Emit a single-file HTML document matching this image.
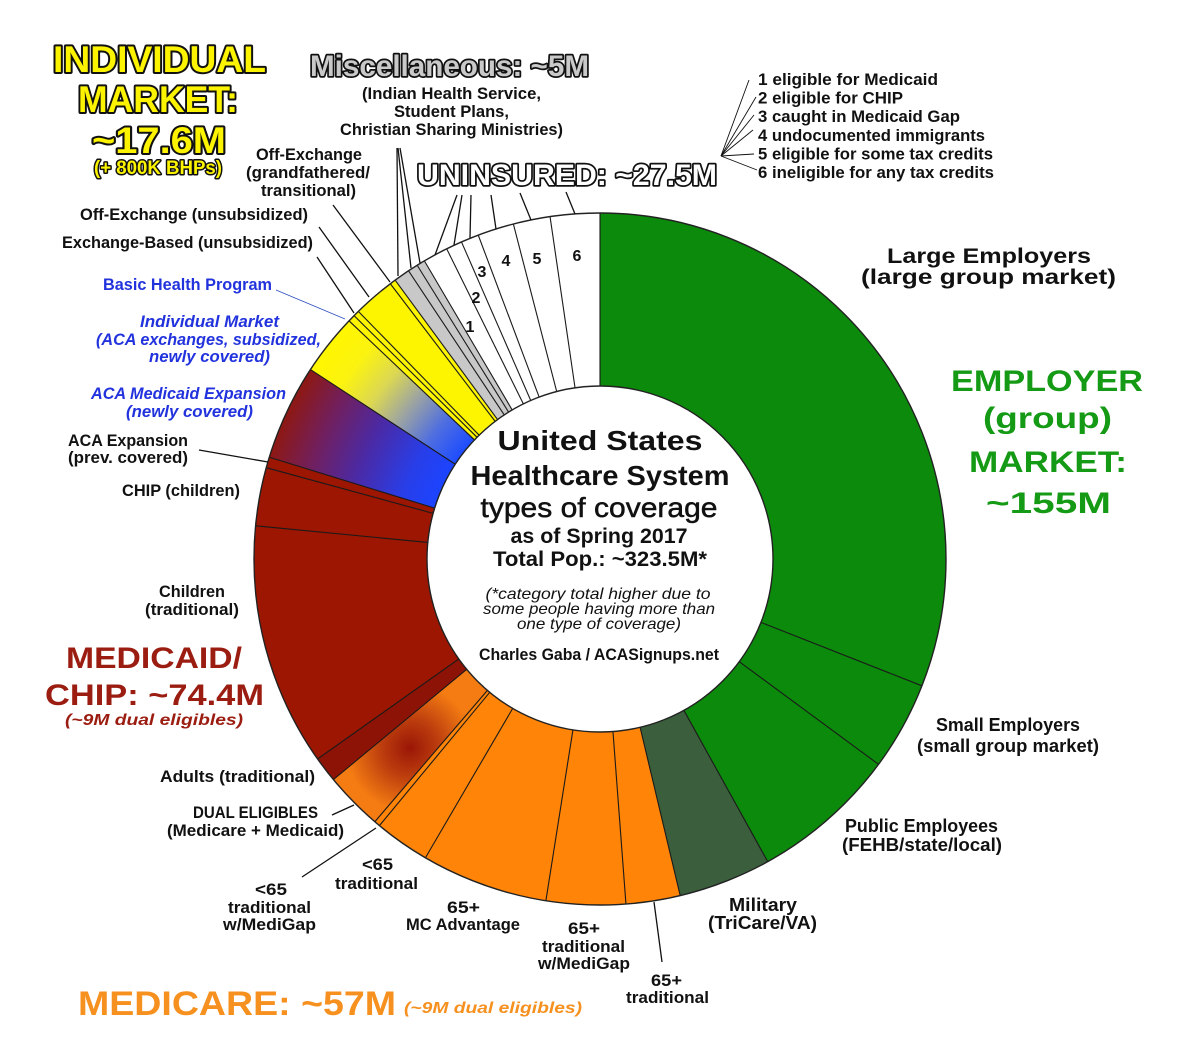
<!DOCTYPE html>
<html><head><meta charset="utf-8"><style>html,body{margin:0;padding:0;background:#fff}svg{display:block}</style></head>
<body>
<svg width="1200" height="1060" viewBox="0 0 1200 1060" xmlns="http://www.w3.org/2000/svg" font-family="'Liberation Sans', Arial, sans-serif">
<defs>
 <radialGradient id="gRB" gradientUnits="userSpaceOnUse" cx="600" cy="559" r="346">
  <stop offset="0.5" stop-color="#1c44ff"/>
  <stop offset="0.6" stop-color="#283ee8"/>
  <stop offset="0.74" stop-color="#4a2aa6"/>
  <stop offset="0.88" stop-color="#721f5c"/>
  <stop offset="1" stop-color="#8e1812"/>
 </radialGradient>
 <radialGradient id="gYB" gradientUnits="userSpaceOnUse" cx="600" cy="559" r="346">
  <stop offset="0.5" stop-color="#1d4cff"/>
  <stop offset="0.6" stop-color="#4f6ee0"/>
  <stop offset="0.7" stop-color="#9aa2a4"/>
  <stop offset="0.8" stop-color="#dcd852"/>
  <stop offset="0.9" stop-color="#fbf310"/>
  <stop offset="1" stop-color="#fff600"/>
 </radialGradient>
 <radialGradient id="gD" gradientUnits="userSpaceOnUse" cx="410" cy="748" r="64">
  <stop offset="0" stop-color="#9a1606"/>
  <stop offset="0.45" stop-color="#bd3e0e"/>
  <stop offset="1" stop-color="#f47c12"/>
 </radialGradient>
</defs>

<!-- donut ring -->
<g fill="none" stroke-width="173">
 <circle cx="600" cy="559" r="259.5" stroke="#0c8a0c"/>
 <circle cx="600" cy="559" r="259.5" stroke="#3b5e3c" stroke-dasharray="70.654 2000" stroke-dashoffset="-276.277"/>
 <circle cx="600" cy="559" r="259.5" stroke="#ff8408" stroke-dasharray="244.573 2000" stroke-dashoffset="-346.931"/>
 <circle cx="600" cy="559" r="259.5" stroke="url(#gD)" stroke-dasharray="44.385 2000" stroke-dashoffset="-591.504"/>
 <circle cx="600" cy="559" r="259.5" stroke="#9c1602" stroke-dasharray="256.802 2000" stroke-dashoffset="-635.890"/>
 <circle cx="600" cy="559" r="259.5" stroke="#8c1306" stroke-dasharray="19.475 2000" stroke-dashoffset="-635.890"/>
 <circle cx="600" cy="559" r="259.5" stroke="url(#gRB)" stroke-dasharray="72.919 2000" stroke-dashoffset="-892.692"/>
 <circle cx="600" cy="559" r="259.5" stroke="url(#gYB)" stroke-dasharray="46.650 2000" stroke-dashoffset="-965.611"/>
 <circle cx="600" cy="559" r="259.5" stroke="#fdf500" stroke-dasharray="46.197 2000" stroke-dashoffset="-1012.261"/>
 <circle cx="600" cy="559" r="259.5" stroke="#c8c8c8" stroke-dasharray="26.269 2000" stroke-dashoffset="-1058.458"/>
 <circle cx="600" cy="559" r="259.5" stroke="#ffffff" stroke-dasharray="138.139 2000" stroke-dashoffset="-1084.727"/>
</g>

<!-- separators -->
<g stroke="#1a1a1a" stroke-width="1.1">
 <line x1="600" y1="386" x2="600" y2="213" transform="rotate(0 600 559)"/>
 <line x1="600" y1="386" x2="600" y2="213" transform="rotate(111.5 600 559)"/>
 <line x1="600" y1="386" x2="600" y2="213" transform="rotate(126.4 600 559)"/>
 <line x1="600" y1="386" x2="600" y2="213" transform="rotate(151 600 559)"/>
 <line x1="600" y1="386" x2="600" y2="213" transform="rotate(166.6 600 559)"/>
 <line x1="600" y1="386" x2="600" y2="213" transform="rotate(175.7 600 559)"/>
 <line x1="600" y1="386" x2="600" y2="213" transform="rotate(189 600 559)"/>
 <line x1="600" y1="386" x2="600" y2="213" transform="rotate(210.3 600 559)"/>
 <line x1="600" y1="386" x2="600" y2="213" transform="rotate(219.6 600 559)"/>
 <line x1="600" y1="386" x2="600" y2="213" transform="rotate(220.6 600 559)"/>
 <line x1="600" y1="386" x2="600" y2="213" transform="rotate(230.4 600 559)"/>
 <line x1="600" y1="386" x2="600" y2="213" transform="rotate(234.7 600 559)"/>
 <line x1="600" y1="386" x2="600" y2="213" transform="rotate(275.5 600 559)"/>
 <line x1="600" y1="386" x2="600" y2="213" transform="rotate(285.3 600 559)"/>
 <line x1="600" y1="386" x2="600" y2="213" transform="rotate(287.1 600 559)"/>
 <line x1="600" y1="386" x2="600" y2="213" transform="rotate(303.2 600 559)"/>
 <line x1="600" y1="386" x2="600" y2="213" transform="rotate(313.5 600 559)"/>
 <line x1="600" y1="386" x2="600" y2="213" transform="rotate(314.7 600 559)"/>
 <line x1="600" y1="386" x2="600" y2="213" transform="rotate(315.7 600 559)"/>
 <line x1="600" y1="386" x2="600" y2="213" transform="rotate(322.7 600 559)"/>
 <line x1="600" y1="386" x2="600" y2="213" transform="rotate(323.7 600 559)"/>
 <line x1="600" y1="386" x2="600" y2="213" transform="rotate(326.4 600 559)"/>
 <line x1="600" y1="386" x2="600" y2="213" transform="rotate(328.1 600 559)"/>
 <line x1="600" y1="386" x2="600" y2="213" transform="rotate(329.5 600 559)"/>
 <line x1="600" y1="386" x2="600" y2="213" transform="rotate(333.7 600 559)"/>
 <line x1="600" y1="386" x2="600" y2="213" transform="rotate(336.4 600 559)"/>
 <line x1="600" y1="386" x2="600" y2="213" transform="rotate(339.4 600 559)"/>
 <line x1="600" y1="386" x2="600" y2="213" transform="rotate(345.5 600 559)"/>
 <line x1="600" y1="386" x2="600" y2="213" transform="rotate(351.7 600 559)"/>
</g>
<circle cx="600" cy="559" r="346" fill="none" stroke="#222" stroke-width="1.4"/>
<circle cx="600" cy="559" r="173" fill="#fff" stroke="#222" stroke-width="1.4"/>

<!-- leader lines -->
<g stroke="#111" stroke-width="1.3" fill="none">
 <line x1="457" y1="195" x2="435" y2="255"/>
 <line x1="462" y1="195" x2="454" y2="245"/>
 <line x1="471" y1="195" x2="470" y2="238"/>
 <line x1="491" y1="195" x2="496" y2="229"/>
 <line x1="520" y1="193" x2="531" y2="220"/>
 <line x1="566" y1="192" x2="575" y2="214"/>
 <line x1="397" y1="148" x2="398" y2="276"/>
 <line x1="398" y1="148" x2="411" y2="268"/>
 <line x1="400" y1="148" x2="420" y2="263"/>
 <line x1="333" y1="205" x2="390" y2="282"/>
 <line x1="319" y1="227" x2="369" y2="297"/>
 <line x1="317" y1="257" x2="354" y2="313"/>
 <line x1="199" y1="450" x2="268" y2="462"/>
 <line x1="332" y1="815" x2="354" y2="805"/>
 <line x1="302" y1="877" x2="376" y2="828"/>
 <line x1="654" y1="902" x2="662" y2="962"/>
</g>
<line x1="276" y1="290" x2="345" y2="319" stroke="#3050c0" stroke-width="0.9"/>
<g stroke="#111" stroke-width="0.9">
 <line x1="721" y1="156" x2="749" y2="80"/>
 <line x1="721" y1="156" x2="756" y2="97"/>
 <line x1="721" y1="156" x2="754" y2="115"/>
 <line x1="721" y1="156" x2="753" y2="130"/>
 <line x1="721" y1="156" x2="754" y2="154"/>
 <line x1="721" y1="156" x2="757" y2="170"/>
</g>

<!-- Big outlined titles -->
<g font-weight="bold" stroke="#111" stroke-linejoin="round" paint-order="stroke" lengthAdjust="spacingAndGlyphs">
 <text x="53" y="72" font-size="37" fill="#fbf300" stroke-width="4" textLength="213" lengthAdjust="spacingAndGlyphs">INDIVIDUAL</text>
 <text x="78" y="112" font-size="37" fill="#fbf300" stroke-width="4" textLength="160" lengthAdjust="spacingAndGlyphs">MARKET:</text>
 <text x="92" y="153" font-size="37" fill="#fbf300" stroke-width="4" textLength="134" lengthAdjust="spacingAndGlyphs">~17.6M</text>
 <text x="94" y="174" font-size="19" fill="#fbf300" stroke-width="3" textLength="128" lengthAdjust="spacingAndGlyphs">(+ 800K BHPs)</text>
 <text x="310" y="76" font-size="30" fill="#c9c9c9" stroke-width="3.5" textLength="279" lengthAdjust="spacingAndGlyphs">Miscellaneous: ~5M</text>
 <text x="417" y="185" font-size="30" fill="#ffffff" stroke-width="3.5" textLength="300" lengthAdjust="spacingAndGlyphs">UNINSURED: ~27.5M</text>
</g>

<!-- Black labels -->
<g font-weight="bold" font-size="16.5" fill="#111">
 <text x="362" y="99" textLength="179" lengthAdjust="spacingAndGlyphs">(Indian Health Service,</text>
 <text x="394" y="117" textLength="115" lengthAdjust="spacingAndGlyphs">Student Plans,</text>
 <text x="340" y="135" textLength="223" lengthAdjust="spacingAndGlyphs">Christian Sharing Ministries)</text>
 <text x="256" y="160" textLength="106" lengthAdjust="spacingAndGlyphs">Off-Exchange</text>
 <text x="246" y="178" textLength="124" lengthAdjust="spacingAndGlyphs">(grandfathered/</text>
 <text x="261" y="196" textLength="95" lengthAdjust="spacingAndGlyphs">transitional)</text>
 <text x="80" y="220" textLength="228" lengthAdjust="spacingAndGlyphs">Off-Exchange (unsubsidized)</text>
 <text x="62" y="248" textLength="251" lengthAdjust="spacingAndGlyphs">Exchange-Based (unsubsidized)</text>
 <text x="68" y="446" textLength="120" lengthAdjust="spacingAndGlyphs">ACA Expansion</text>
 <text x="68" y="463" textLength="120" lengthAdjust="spacingAndGlyphs">(prev. covered)</text>
 <text x="122" y="496" textLength="118" lengthAdjust="spacingAndGlyphs">CHIP (children)</text>
 <text x="159" y="597" textLength="66" lengthAdjust="spacingAndGlyphs">Children</text>
 <text x="145" y="615" textLength="94" lengthAdjust="spacingAndGlyphs">(traditional)</text>
 <text x="160" y="782" textLength="155" lengthAdjust="spacingAndGlyphs">Adults (traditional)</text>
 <text x="193" y="818" textLength="125" lengthAdjust="spacingAndGlyphs">DUAL ELIGIBLES</text>
 <text x="167" y="836" textLength="177" lengthAdjust="spacingAndGlyphs">(Medicare + Medicaid)</text>
 <text x="362" y="870" textLength="31" lengthAdjust="spacingAndGlyphs">&lt;65</text>
 <text x="335" y="889" textLength="83" lengthAdjust="spacingAndGlyphs">traditional</text>
 <text x="255" y="895" textLength="32" lengthAdjust="spacingAndGlyphs">&lt;65</text>
 <text x="228" y="913" textLength="83" lengthAdjust="spacingAndGlyphs">traditional</text>
 <text x="223" y="930" textLength="93" lengthAdjust="spacingAndGlyphs">w/MediGap</text>
 <text x="447" y="913" textLength="33" lengthAdjust="spacingAndGlyphs">65+</text>
 <text x="406" y="930" textLength="114" lengthAdjust="spacingAndGlyphs">MC Advantage</text>
 <text x="568" y="934" textLength="32" lengthAdjust="spacingAndGlyphs">65+</text>
 <text x="542" y="952" textLength="83" lengthAdjust="spacingAndGlyphs">traditional</text>
 <text x="538" y="969" textLength="92" lengthAdjust="spacingAndGlyphs">w/MediGap</text>
 <text x="651" y="986" textLength="31" lengthAdjust="spacingAndGlyphs">65+</text>
 <text x="626" y="1003" textLength="83" lengthAdjust="spacingAndGlyphs">traditional</text>
 <text x="758" y="85" textLength="180" lengthAdjust="spacingAndGlyphs">1 eligible for Medicaid</text>
 <text x="758" y="103.6" textLength="145" lengthAdjust="spacingAndGlyphs">2 eligible for CHIP</text>
 <text x="758" y="122.2" textLength="202" lengthAdjust="spacingAndGlyphs">3 caught in Medicaid Gap</text>
 <text x="758" y="140.8" textLength="227" lengthAdjust="spacingAndGlyphs">4 undocumented immigrants</text>
 <text x="758" y="159.4" textLength="235" lengthAdjust="spacingAndGlyphs">5 eligible for some tax credits</text>
 <text x="758" y="178" textLength="236" lengthAdjust="spacingAndGlyphs">6 ineligible for any tax credits</text>
</g>
<g font-weight="bold" font-size="18" fill="#111">
 <text x="729" y="911" textLength="68" lengthAdjust="spacingAndGlyphs">Military</text>
 <text x="708" y="929" textLength="109" lengthAdjust="spacingAndGlyphs">(TriCare/VA)</text>
 <text x="845" y="832" textLength="153" lengthAdjust="spacingAndGlyphs">Public Employees</text>
 <text x="842" y="851" textLength="160" lengthAdjust="spacingAndGlyphs">(FEHB/state/local)</text>
 <text x="936" y="731" textLength="144" lengthAdjust="spacingAndGlyphs">Small Employers</text>
 <text x="917" y="752" textLength="182" lengthAdjust="spacingAndGlyphs">(small group market)</text>
 <text x="887" y="263" font-size="21" textLength="204" lengthAdjust="spacingAndGlyphs">Large Employers</text>
 <text x="861" y="284" font-size="21" textLength="255" lengthAdjust="spacingAndGlyphs">(large group market)</text>
</g>

<!-- segment numbers -->
<g font-weight="bold" font-size="16" fill="#111" text-anchor="middle">
 <text x="577" y="261">6</text>
 <text x="537" y="264">5</text>
 <text x="506" y="266">4</text>
 <text x="482" y="277">3</text>
 <text x="476" y="303">2</text>
 <text x="470" y="332">1</text>
</g>

<!-- Blue labels -->
<g font-weight="bold" font-size="16.5" fill="#2233dd">
 <text x="103" y="290" textLength="169" lengthAdjust="spacingAndGlyphs">Basic Health Program</text>
 <g font-style="italic">
  <text x="140" y="327" textLength="139" lengthAdjust="spacingAndGlyphs">Individual Market</text>
  <text x="96" y="345" textLength="225" lengthAdjust="spacingAndGlyphs">(ACA exchanges, subsidized,</text>
  <text x="149" y="362" textLength="121" lengthAdjust="spacingAndGlyphs">newly covered)</text>
  <text x="91" y="399" textLength="195" lengthAdjust="spacingAndGlyphs">ACA Medicaid Expansion</text>
  <text x="126" y="417" textLength="127" lengthAdjust="spacingAndGlyphs">(newly covered)</text>
 </g>
</g>

<!-- Category big labels -->
<g font-weight="bold">
 <text x="66" y="668" font-size="30" fill="#9b1c10" textLength="176" lengthAdjust="spacingAndGlyphs">MEDICAID/</text>
 <text x="45" y="705" font-size="30" fill="#9b1c10" textLength="219" lengthAdjust="spacingAndGlyphs">CHIP: ~74.4M</text>
 <text x="65" y="725" font-size="16" font-style="italic" fill="#9b1c10" textLength="178" lengthAdjust="spacingAndGlyphs">(~9M dual eligibles)</text>
 <text x="78" y="1015" font-size="34" fill="#f6901e" textLength="318" lengthAdjust="spacingAndGlyphs">MEDICARE: ~57M</text>
 <text x="404" y="1013" font-size="16" font-style="italic" fill="#f6901e" textLength="178" lengthAdjust="spacingAndGlyphs">(~9M dual eligibles)</text>
 <text x="951" y="391" font-size="30" fill="#149a14" textLength="192" lengthAdjust="spacingAndGlyphs">EMPLOYER</text>
 <text x="983" y="428" font-size="30" fill="#149a14" textLength="129" lengthAdjust="spacingAndGlyphs">(group)</text>
 <text x="969" y="472" font-size="30" fill="#149a14" textLength="158" lengthAdjust="spacingAndGlyphs">MARKET:</text>
 <text x="986" y="513" font-size="30" fill="#149a14" textLength="125" lengthAdjust="spacingAndGlyphs">~155M</text>
</g>

<!-- Center text -->
<g fill="#111" text-anchor="middle">
 <text x="600" y="450" font-size="28" font-weight="bold" textLength="205" lengthAdjust="spacingAndGlyphs">United States</text>
 <text x="600" y="485" font-size="28" font-weight="bold" textLength="259" lengthAdjust="spacingAndGlyphs">Healthcare System</text>
 <text x="599" y="517" font-size="28" stroke="#111" stroke-width="0.5" textLength="237" lengthAdjust="spacingAndGlyphs">types of coverage</text>
 <text x="599" y="543" font-size="21" font-weight="bold" textLength="177" lengthAdjust="spacingAndGlyphs">as of Spring 2017</text>
 <text x="600" y="566" font-size="21" font-weight="bold" textLength="214" lengthAdjust="spacingAndGlyphs">Total Pop.: ~323.5M*</text>
 <text x="598" y="599" font-size="16" font-style="italic" textLength="225" lengthAdjust="spacingAndGlyphs">(*category total higher due to</text>
 <text x="599" y="614" font-size="16" font-style="italic" textLength="232" lengthAdjust="spacingAndGlyphs">some people having more than</text>
 <text x="599" y="629" font-size="16" font-style="italic" textLength="164" lengthAdjust="spacingAndGlyphs">one type of coverage)</text>
 <text x="599" y="660" font-size="17" font-weight="bold" textLength="240" lengthAdjust="spacingAndGlyphs">Charles Gaba / ACASignups.net</text>
</g>
</svg>
</body></html>
